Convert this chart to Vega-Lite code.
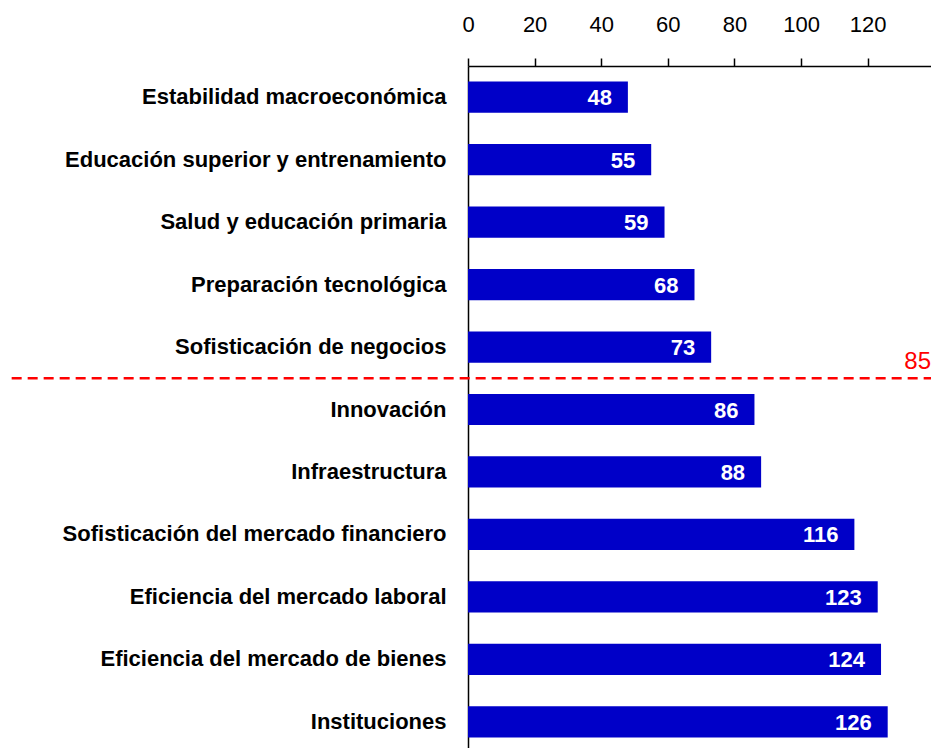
{
  "$schema": "https://vega.github.io/schema/vega-lite/v6.json",
  "autosize": "none",
  "padding": {"left": 468, "top": 66, "right": 0, "bottom": 0},
  "width": 463,
  "height": 687,
  "background": "white",
  "config": {"view": {"stroke": null}, "font": "Liberation Sans"},
  "datasets": {
    "bars": [
      {"pilar": "Estabilidad macroeconómica", "valor": 48},
      {"pilar": "Educación superior y entrenamiento", "valor": 55},
      {"pilar": "Salud y educación primaria", "valor": 59},
      {"pilar": "Preparación tecnológica", "valor": 68},
      {"pilar": "Sofisticación de negocios", "valor": 73},
      {"pilar": "Innovación", "valor": 86},
      {"pilar": "Infraestructura", "valor": 88},
      {"pilar": "Sofisticación del mercado financiero", "valor": 116},
      {"pilar": "Eficiencia del mercado laboral", "valor": 123},
      {"pilar": "Eficiencia del mercado de bienes", "valor": 124},
      {"pilar": "Instituciones", "valor": 126}
    ],
    "umbral": [
      {"pilar": "Innovación", "desde": -137, "hasta": 140, "posEtiqueta": 139, "etiqueta": "85"}
    ]
  },
  "layer": [
    {
      "data": {"name": "bars"},
      "mark": {"type": "bar", "color": "#0000C8"},
      "encoding": {
        "y": {
          "field": "pilar", "type": "nominal",
          "scale": {"paddingInner": 0.5, "paddingOuter": 0.25, "domain": [
            "Estabilidad macroeconómica", "Educación superior y entrenamiento", "Salud y educación primaria", "Preparación tecnológica", "Sofisticación de negocios", "Innovación", "Infraestructura", "Sofisticación del mercado financiero", "Eficiencia del mercado laboral", "Eficiencia del mercado de bienes", "Instituciones"]},
          "axis": {"title": null, "orient": "left", "ticks": false, "domain": true, "domainColor": "black", "domainWidth": 1.5, "labelFont": "Liberation Sans", "labelFontWeight": "bold", "labelFontSize": 22, "labelColor": "black", "labelPadding": 22, "labelLimit": 500}
        },
        "x": {
          "field": "valor", "type": "quantitative",
          "scale": {"domain": [0, 139], "nice": false},
          "axis": {"title": null, "orient": "top", "values": [0, 20, 40, 60, 80, 100, 120], "grid": false, "labelFlush": false, "domainColor": "black", "domainWidth": 1.5, "tickColor": "black", "tickWidth": 1.5, "tickSize": 8, "labelFontSize": 22, "labelColor": "black", "labelPadding": 22, "labelFont": "Liberation Sans"}
        }
      }
    },
    {
      "data": {"name": "bars"},
      "mark": {"type": "text", "align": "right", "baseline": "middle", "dx": -16, "dy": 1, "color": "white", "fontWeight": "bold", "fontSize": 22, "font": "Liberation Sans"},
      "encoding": {
        "y": {"field": "pilar", "type": "nominal"},
        "x": {"field": "valor", "type": "quantitative"},
        "text": {"field": "valor", "type": "quantitative"}
      }
    },
    {
      "data": {"name": "umbral"},
      "mark": {"type": "rule", "color": "#FF0000", "strokeWidth": 2.5, "strokeDash": [10, 6]},
      "encoding": {
        "y": {"field": "pilar", "type": "nominal", "bandPosition": -0.5},
        "x": {"field": "desde", "type": "quantitative"},
        "x2": {"field": "hasta"}
      }
    },
    {
      "data": {"name": "umbral"},
      "mark": {"type": "text", "align": "right", "baseline": "bottom", "dy": -4, "color": "#FF0000", "fontSize": 24, "font": "Liberation Sans"},
      "encoding": {
        "y": {"field": "pilar", "type": "nominal", "bandPosition": -0.5},
        "x": {"field": "posEtiqueta", "type": "quantitative"},
        "text": {"field": "etiqueta"}
      }
    }
  ]
}
